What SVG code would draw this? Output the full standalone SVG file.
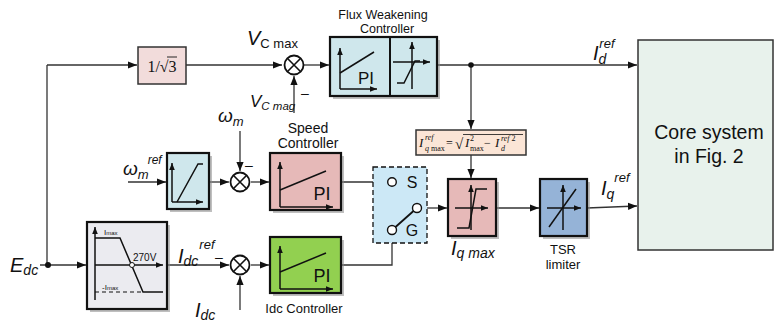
<svg xmlns="http://www.w3.org/2000/svg" width="774" height="324" viewBox="0 0 774 324">
<defs>
<marker id="ah" viewBox="0 0 10 10" refX="10" refY="5" markerWidth="9" markerHeight="9" markerUnits="userSpaceOnUse" orient="auto"><path d="M0,1 L10,5 L0,9 z" fill="#111"/></marker>
<marker id="sa" viewBox="0 0 10 10" refX="10" refY="5" markerWidth="7" markerHeight="7" markerUnits="userSpaceOnUse" orient="auto"><path d="M0,1 L10,5 L0,9 z" fill="#111"/></marker>
<style>
.ln{fill:none;stroke:#333;stroke-width:1.3}
.blk{stroke:#111;stroke-width:2.2}
.sh{fill:#8a8a8a;opacity:0.55}
.ax{fill:none;stroke:#111;stroke-width:1.5}
.sum{fill:#fff;stroke:#111;stroke-width:1.8}
.t{font-family:"Liberation Sans",Arial,sans-serif;fill:#111}
.v{font-family:"Liberation Sans",Arial,sans-serif;font-style:italic;fill:#111}
.s{font-family:"Liberation Serif","Times New Roman",serif;fill:#111}
</style>
</defs>

<g id="connectors">
<path class="ln" d="M47,65 H137" marker-end="url(#ah)"/>
<path class="ln" d="M47,65 V265"/>
<path class="ln" d="M40,265 H86" marker-end="url(#ah)"/>
<path class="ln" d="M186,65 H282" marker-end="url(#ah)"/>
<path class="ln" d="M303,65 H329" marker-end="url(#ah)"/>
<path class="ln" d="M294,113 V76" marker-end="url(#ah)"/>
<path class="ln" d="M437,65 H637" marker-end="url(#ah)"/>
<path class="ln" d="M471,65 V129" marker-end="url(#ah)"/>
<path class="ln" d="M471,155 V178" marker-end="url(#ah)"/>
<path class="ln" d="M128,182 H166" marker-end="url(#ah)"/>
<path class="ln" d="M209,182 H229" marker-end="url(#ah)"/>
<path class="ln" d="M240,131 V171" marker-end="url(#ah)"/>
<path class="ln" d="M251,182 H269" marker-end="url(#ah)"/>
<path class="ln" d="M341,182 H388"/>
<path class="ln" d="M167,265 H229" marker-end="url(#ah)"/>
<path class="ln" d="M240,310 V276" marker-end="url(#ah)"/>
<path class="ln" d="M251,265 H269" marker-end="url(#ah)"/>
<path class="ln" d="M341,265 H392 V234.5"/>
<path class="ln" d="M421.5,208 H447" marker-end="url(#ah)"/>
<path class="ln" d="M496,208 H539" marker-end="url(#ah)"/>
<path class="ln" d="M587,208 L637,206" marker-end="url(#ah)"/>
<circle cx="471" cy="65" r="2.8" fill="#111"/>
<circle cx="48" cy="265" r="3" fill="#111"/>
</g>

<g id="gain">
<rect x="138" y="47" width="48" height="37" fill="#f2dcdb" stroke="#333" stroke-width="1.5"/>
<text class="s" x="162" y="72" font-size="16" text-anchor="middle">1/√3</text>
<line x1="167" y1="57" x2="177" y2="57" stroke="#111" stroke-width="0.9"/>
</g>

<g id="sum1">
<circle class="sum" cx="294" cy="65" r="9.5"/>
<path d="M287.3,58.3 L300.7,71.7 M300.7,58.3 L287.3,71.7" stroke="#111" stroke-width="1.6"/>
<text class="v" x="247" y="45" font-size="20">V<tspan class="t" font-style="normal" font-size="13" dy="3">C max</tspan></text>
<text class="v" x="250" y="107" font-size="17">V<tspan font-size="11.5" dy="3">C mag</tspan></text>
<text class="t" x="301" y="98" font-size="14">–</text>
</g>

<g id="flux">
<rect class="sh" x="333" y="40" width="107" height="59"/>
<rect class="blk" x="330" y="37" width="107" height="59" fill="#cfe7ec"/>
<line x1="390" y1="37" x2="390" y2="96" stroke="#111" stroke-width="2"/>
<path class="ax" d="M340,89 V48" marker-end="url(#sa)"/>
<path class="ax" d="M340,89 H377" marker-end="url(#sa)"/>
<path class="ax" d="M340,73 L374,52"/>
<text class="t" x="366" y="84" font-size="17" text-anchor="middle">PI</text>
<path class="ax" d="M412,89 V42" marker-end="url(#sa)"/>
<path class="ax" d="M393,62 H430" marker-end="url(#sa)"/>
<path class="ax" d="M397,83 H404 L415,61 H420"/>
<text class="t" x="383" y="19" font-size="12.5" text-anchor="middle">Flux Weakening</text>
<text class="t" x="387" y="33" font-size="12.5" text-anchor="middle">Controller</text>
</g>

<g id="idref">
<text class="v" x="593" y="60" font-size="20">I<tspan font-size="14" dy="4">d</tspan><tspan font-size="13" dx="-7" dy="-16">ref</tspan></text>
</g>

<g id="formula">
<rect x="416" y="130" width="110" height="25" fill="#fbe5d6" stroke="#333" stroke-width="1.5"/>
<text class="s" x="419" y="147" font-size="13" font-style="italic">I</text>
<text class="s" x="425" y="140" font-size="8" font-style="italic">ref</text>
<text class="s" x="425" y="151" font-size="8"><tspan font-style="italic">q</tspan> max</text>
<text class="s" x="446" y="147" font-size="12">=</text>
<text class="s" x="455" y="149" font-size="15">√</text>
<line x1="463" y1="134.5" x2="523" y2="134.5" stroke="#111" stroke-width="0.8"/>
<text class="s" x="465" y="147" font-size="13" font-style="italic">I</text>
<text class="s" x="470" y="141" font-size="8">2</text>
<text class="s" x="470" y="151" font-size="8">max</text>
<text class="s" x="484" y="147" font-size="12">−</text>
<text class="s" x="495" y="147" font-size="13" font-style="italic">I</text>
<text class="s" x="501" y="141" font-size="8"><tspan font-style="italic">ref</tspan> 2</text>
<text class="s" x="501" y="151" font-size="8" font-style="italic">d</text>
</g>

<g id="core">
<rect x="638" y="40" width="135" height="210" fill="#e8f2ec" stroke="#333" stroke-width="1.5"/>
<text class="t" x="709" y="139" font-size="19.5" text-anchor="middle">Core system</text>
<text class="t" x="709" y="163" font-size="19.5" text-anchor="middle">in Fig. 2</text>
</g>

<g id="ratelimiter">
<text class="v" x="123" y="175" font-size="19">ω<tspan font-size="13" dy="4">m</tspan><tspan font-size="12" dx="-1" dy="-15">ref</tspan></text>
<rect class="sh" x="170" y="156" width="42" height="56"/>
<rect class="blk" x="167" y="153" width="42" height="56" fill="#cfe7ec"/>
<path class="ax" d="M172,202 V163" marker-end="url(#sa)"/>
<path class="ax" d="M172,202 H203" marker-end="url(#sa)"/>
<path class="ax" d="M177,202 L198,164 H203"/>
</g>

<g id="sum2">
<circle class="sum" cx="240" cy="182" r="9.5"/>
<path d="M233.3,175.3 L246.7,188.7 M246.7,175.3 L233.3,188.7" stroke="#111" stroke-width="1.6"/>
<text class="v" x="218" y="122" font-size="19">ω<tspan font-size="13" dy="4">m</tspan></text>
<text class="t" x="245" y="170" font-size="14">–</text>
</g>

<g id="speed">
<text class="t" x="308" y="133" font-size="14" text-anchor="middle">Speed</text>
<text class="t" x="308" y="148" font-size="14" text-anchor="middle">Controller</text>
<rect class="sh" x="273" y="156" width="71" height="57"/>
<rect class="blk" x="270" y="153" width="71" height="57" fill="#e6b9b8"/>
<path class="ax" d="M280,207 V162" marker-end="url(#sa)"/>
<path class="ax" d="M280,207 H333" marker-end="url(#sa)"/>
<path class="ax" d="M280,190 L326,171"/>
<text class="t" x="322" y="200" font-size="18" text-anchor="middle">PI</text>
</g>

<g id="switch">
<rect x="373" y="167" width="54" height="76" fill="#cce8f6" stroke="#111" stroke-width="1.3" stroke-dasharray="5,3"/>
<circle cx="392" cy="182" r="4.3" fill="#fff" stroke="#111" stroke-width="1.4"/>
<circle cx="392" cy="230" r="4.5" fill="#fff" stroke="#111" stroke-width="1.4"/>
<circle cx="417" cy="208" r="4.5" fill="#fff" stroke="#111" stroke-width="1.4"/>
<line x1="395.5" y1="227" x2="413.5" y2="211" stroke="#111" stroke-width="1.8"/>
<text class="t" x="412" y="188" font-size="16" text-anchor="middle">S</text>
<text class="t" x="412" y="236" font-size="16" text-anchor="middle">G</text>
</g>

<g id="edcprofile">
<text class="v" x="10" y="272" font-size="20">E<tspan font-size="14" dy="3">dc</tspan></text>
<rect class="sh" x="90" y="225" width="80" height="87"/>
<rect class="blk" x="87" y="222" width="80" height="87" fill="#ebebf0"/>
<path class="ax" d="M95,300 V227" marker-end="url(#sa)"/>
<path class="ax" d="M95,265 H163" marker-end="url(#sa)"/>
<path class="ax" d="M95,238 H120 L143,292 H163"/>
<path d="M95,292 H143" fill="none" stroke="#111" stroke-width="1.2" stroke-dasharray="4,3"/>
<circle cx="132" cy="265" r="2.5" fill="#fff" stroke="#111" stroke-width="1"/>
<text class="t" x="104" y="235" font-size="8">I<tspan font-size="6">max</tspan></text>
<text class="t" x="133" y="261" font-size="10">270V</text>
<text class="t" x="102" y="290" font-size="8">-I<tspan font-size="6">max</tspan></text>
</g>

<g id="sum3">
<circle class="sum" cx="240" cy="265" r="9.5"/>
<path d="M233.3,258.3 L246.7,271.7 M246.7,258.3 L233.3,271.7" stroke="#111" stroke-width="1.6"/>
<text class="v" x="178" y="263" font-size="20">I<tspan font-size="14" dy="3">dc</tspan><tspan font-size="13" dx="1" dy="-17">ref</tspan></text>
<text class="t" x="215" y="262" font-size="14">–</text>
<text class="v" x="195" y="317" font-size="20">I<tspan font-size="14" dy="3">dc</tspan></text>
</g>

<g id="idc">
<rect class="sh" x="273" y="240" width="71" height="56"/>
<rect class="blk" x="270" y="237" width="71" height="56" fill="#92d050"/>
<path class="ax" d="M280,289 V246" marker-end="url(#sa)"/>
<path class="ax" d="M280,289 H333" marker-end="url(#sa)"/>
<path class="ax" d="M280,272 L326,253"/>
<text class="t" x="322" y="282" font-size="18" text-anchor="middle">PI</text>
<text class="t" x="304" y="313" font-size="13" text-anchor="middle">Idc Controller</text>
</g>

<g id="iqmax">
<rect class="sh" x="451" y="182" width="48" height="57"/>
<rect class="blk" x="448" y="179" width="48" height="57" fill="#e6b9b8"/>
<path class="ax" d="M471,230 V185" marker-end="url(#sa)"/>
<path class="ax" d="M455,208 H488" marker-end="url(#sa)"/>
<path class="ax" d="M457,228 H469 L476,189 H487"/>
<text class="v" x="451" y="255" font-size="20">I<tspan font-size="14" dy="3">q max</tspan></text>
</g>

<g id="tsr">
<rect class="sh" x="543" y="182" width="47" height="57"/>
<rect class="blk" x="540" y="179" width="47" height="57" fill="#95b3d7"/>
<path class="ax" d="M563,230 V185" marker-end="url(#sa)"/>
<path class="ax" d="M547,208 H581" marker-end="url(#sa)"/>
<path class="ax" d="M549,227 L576,189"/>
<text class="t" x="563" y="254" font-size="13" text-anchor="middle">TSR</text>
<text class="t" x="563" y="269" font-size="13" text-anchor="middle">limiter</text>
<text class="v" x="601" y="195" font-size="20">I<tspan font-size="14" dy="4">q</tspan><tspan font-size="13" dx="0" dy="-17">ref</tspan></text>
</g>
</svg>
